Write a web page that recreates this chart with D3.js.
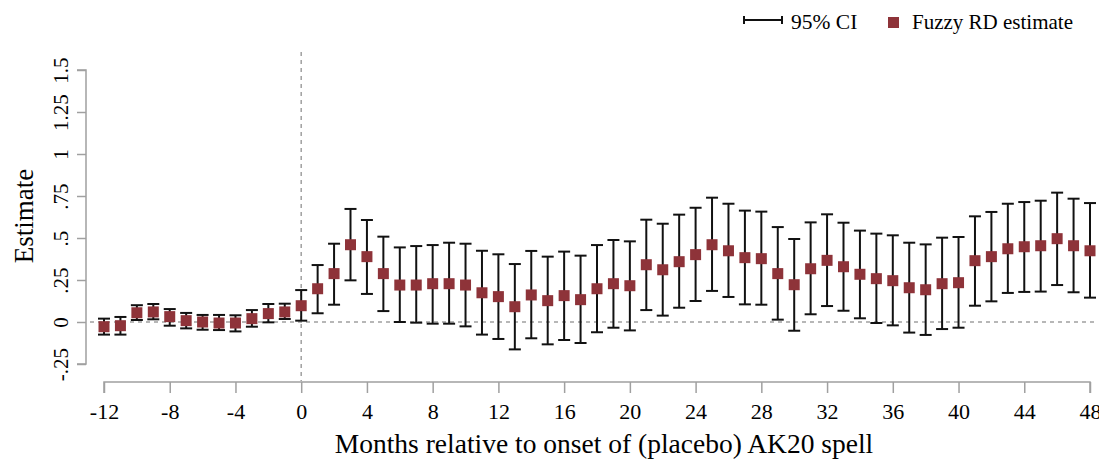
<!DOCTYPE html>
<html>
<head>
<meta charset="utf-8">
<script src="https://cdn.jsdelivr.net/npm/d3@7"></script>
<style>
  body { margin: 0; background: #fff; }
  svg text { font-family: 'Liberation Serif', 'Times New Roman', 'DejaVu Serif', serif; }
</style>
</head>
<body>
<div class="container"></div>
<script>
// months relative to onset, -12 .. 48
const months = d3.range(-12, 49)

const estimate = [
  -0.028, -0.022, 0.055, 0.060, 0.032, 0.008, 0.000, -0.006, -0.006, 0.020, 0.050, 0.060, 0.097,
  0.198, 0.288, 0.460, 0.389, 0.288, 0.220, 0.220, 0.228, 0.228, 0.220, 0.174, 0.151,
  0.091, 0.161, 0.127, 0.157, 0.133, 0.198, 0.228, 0.216, 0.341, 0.311, 0.359, 0.401,
  0.460, 0.424, 0.383, 0.377, 0.288, 0.222, 0.317, 0.367, 0.329, 0.284, 0.258, 0.246,
  0.204, 0.192, 0.228, 0.234, 0.365, 0.389, 0.436, 0.448, 0.454, 0.496, 0.454, 0.424
]

const ciUpper = [
  0.020, 0.030, 0.100, 0.107, 0.077, 0.054, 0.042, 0.042, 0.040, 0.071, 0.107, 0.109, 0.190,
  0.339, 0.466, 0.673, 0.607, 0.508, 0.444, 0.452, 0.458, 0.472, 0.466, 0.424, 0.403,
  0.345, 0.423, 0.389, 0.419, 0.395, 0.458, 0.488, 0.480, 0.609, 0.585, 0.639, 0.680,
  0.740, 0.704, 0.663, 0.657, 0.565, 0.494, 0.593, 0.641, 0.591, 0.544, 0.526, 0.516,
  0.472, 0.462, 0.502, 0.506, 0.629, 0.655, 0.704, 0.714, 0.722, 0.770, 0.734, 0.708
]

const ciLower = [
  -0.075, -0.075, 0.012, 0.016, -0.022, -0.038, -0.046, -0.048, -0.056, -0.028, -0.002, 0.018, 0.008,
  0.052, 0.103, 0.248, 0.167, 0.065, 0.000, -0.004, -0.010, -0.010, -0.026, -0.075, -0.101,
  -0.163, -0.097, -0.133, -0.107, -0.125, -0.061, -0.034, -0.050, 0.071, 0.038, 0.085, 0.125,
  0.185, 0.149, 0.105, 0.103, 0.014, -0.052, 0.046, 0.095, 0.067, 0.022, -0.006, -0.020,
  -0.063, -0.077, -0.042, -0.034, 0.097, 0.123, 0.173, 0.179, 0.181, 0.220, 0.177, 0.145
]

const xTicks = d3.range(-12, 49, 4)
const yTicks = [-0.25, 0, 0.25, 0.5, 0.75, 1, 1.25, 1.5]
const yTickLabels = ['-.25', '0', '.25', '.5', '.75', '1', '1.25', '1.5']

const data = months.map((m, i) => ({ m, est: estimate[i], lo: ciLower[i], hi: ciUpper[i] }))

const w = 1099
const h = 461
const red = '#8e3339'
const grey = '#a0a0a0'
const serif = "'Liberation Serif', 'Times New Roman', 'DejaVu Serif', serif"

const svg = d3.select('.container')
  .append('svg')
  .attr('width', w)
  .attr('height', h)
  .attr('font-family', serif)

const xScale = d3.scaleLinear()
  .domain([-12, 48])
  .range([104, 1090])

const yScale = d3.scaleLinear()
  .domain([-0.25, 1.5])
  .range([364, 70])

// reference lines
svg.append('line')
  .attr('x1', 90).attr('x2', 1096)
  .attr('y1', yScale(0)).attr('y2', yScale(0))
  .attr('stroke', grey).attr('stroke-width', 1.5)
  .attr('stroke-dasharray', '4,4')

svg.append('line')
  .attr('x1', xScale(0)).attr('x2', xScale(0))
  .attr('y1', 52).attr('y2', 381)
  .attr('stroke', grey).attr('stroke-width', 1.5)
  .attr('stroke-dasharray', '4,4')

// axes
const xAxis = d3.axisBottom(xScale)
  .tickValues(xTicks)
  .tickSize(11)
  .tickPadding(10)
  .tickFormat(d => String(d))

const yAxis = d3.axisLeft(yScale)
  .tickValues(yTicks)
  .tickSize(9)
  .tickFormat((d, i) => yTickLabels[i])

const gx = svg.append('g')
  .attr('transform', 'translate(0, 382)')
  .call(xAxis)
  .attr('font-family', serif)
gx.select('.domain').attr('stroke', grey).attr('stroke-width', 1.5)
  .attr('d', `M${xScale(-12)},11V0H${xScale(48)}V11`)
gx.selectAll('.tick line').attr('stroke', grey).attr('stroke-width', 1.5)
gx.selectAll('.tick text').attr('font-size', 22).attr('fill', '#000')

const gy = svg.append('g')
  .attr('transform', 'translate(86, 0)')
  .call(yAxis)
  .attr('font-family', serif)
gy.select('.domain').attr('stroke', grey).attr('stroke-width', 1.5)
  .attr('d', `M-9,${yScale(1.5)}H0V${yScale(-0.25)}H-9`)
gy.selectAll('.tick line').attr('stroke', grey).attr('stroke-width', 1.5)
gy.selectAll('.tick text')
  .attr('font-size', 21).attr('fill', '#000')
  .attr('x', null).attr('dy', null)
  .attr('text-anchor', 'middle')
  .attr('transform', 'translate(-18, 0) rotate(-90)')

// error bars
const bars = svg.append('g')
data.forEach(d => {
  const x = xScale(d.m)
  bars.append('line')
    .attr('x1', x).attr('x2', x)
    .attr('y1', yScale(d.hi)).attr('y2', yScale(d.lo))
    .attr('stroke', '#111').attr('stroke-width', 2)
  ;[d.hi, d.lo].forEach(v => {
    bars.append('line')
      .attr('x1', x - 6).attr('x2', x + 6)
      .attr('y1', yScale(v)).attr('y2', yScale(v))
      .attr('stroke', '#111').attr('stroke-width', 2)
  })
})

svg.selectAll('rect.pt')
  .data(data)
  .enter()
  .append('rect')
  .attr('class', 'pt')
  .attr('x', d => xScale(d.m) - 5.5)
  .attr('y', d => yScale(d.est) - 5.5)
  .attr('width', 11)
  .attr('height', 11)
  .attr('fill', red)

// titles
svg.append('text')
  .text('Estimate')
  .attr('transform', 'translate(33, 216) rotate(-90)')
  .attr('text-anchor', 'middle')
  .attr('font-size', 27)

svg.append('text')
  .text('Months relative to onset of (placebo) AK20 spell')
  .attr('x', 604)
  .attr('y', 453)
  .attr('text-anchor', 'middle')
  .attr('font-size', 27.5)

// legend
const lg = svg.append('g')
lg.append('line').attr('x1', 744).attr('x2', 782).attr('y1', 20).attr('y2', 20)
  .attr('stroke', '#111').attr('stroke-width', 2)
lg.append('line').attr('x1', 744).attr('x2', 744).attr('y1', 16).attr('y2', 24)
  .attr('stroke', '#111').attr('stroke-width', 2)
lg.append('line').attr('x1', 782).attr('x2', 782).attr('y1', 16).attr('y2', 24)
  .attr('stroke', '#111').attr('stroke-width', 2)
lg.append('text').text('95% CI').attr('x', 791).attr('y', 29).attr('font-size', 21.5)
lg.append('rect').attr('x', 888).attr('y', 17).attr('width', 11).attr('height', 11).attr('fill', red)
lg.append('text').text('Fuzzy RD estimate').attr('x', 912).attr('y', 29).attr('font-size', 21)
</script>
</body>
</html>
